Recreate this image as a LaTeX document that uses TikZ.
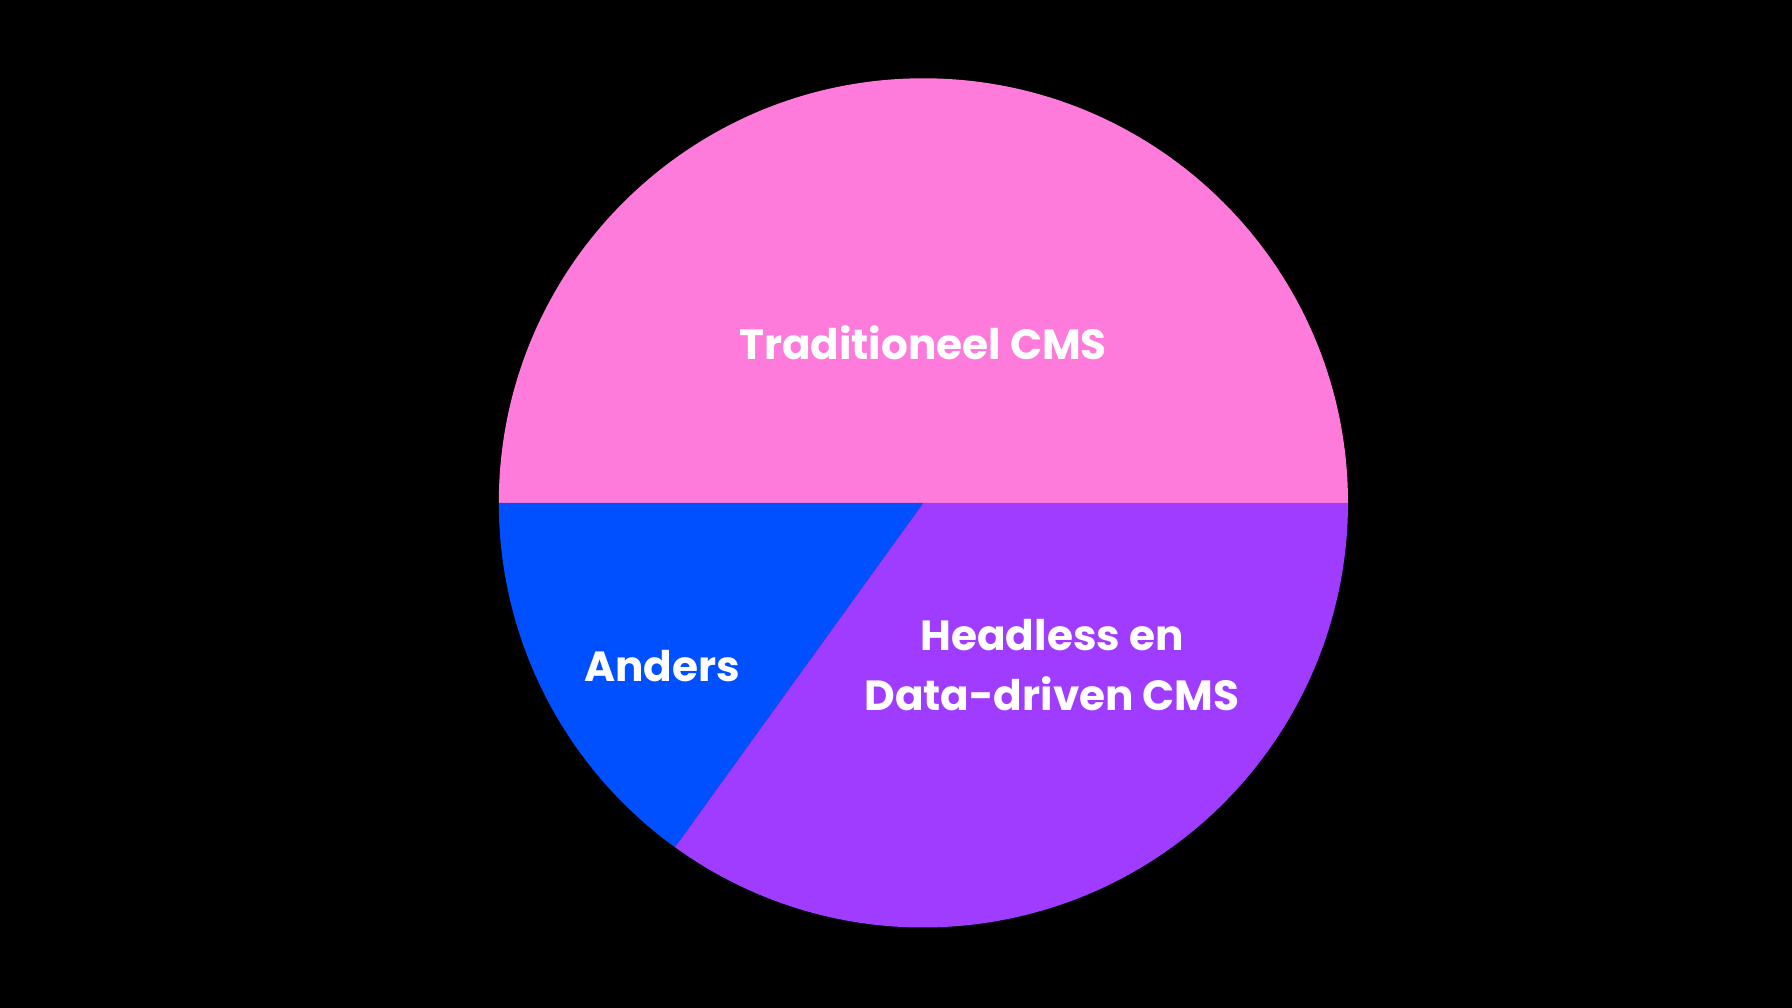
\documentclass[tikz,border=0pt]{standalone}
\usepackage{fontspec}
\setmainfont{Poppins}
\usepackage{tikz}

\definecolor{tradpink}{HTML}{FF7BDB}
\definecolor{andersblue}{HTML}{0050FF}
\definecolor{headlesspurple}{HTML}{A03CFF}

\begin{document}
\begin{tikzpicture}[
    slicelabel/.style={text=white, font=\fontsize{12}{17.2}\selectfont\bfseries, align=center, inner sep=0pt}]

    % background and frame
    \fill[black] (0,0) rectangle (17.92,10.08);
    \useasboundingbox (0,0) rectangle (17.92,10.08);

    \coordinate (c) at (9.234,5.051);

    % slices
    \fill[tradpink] (c) -- ++(0:4.246) arc[start angle=0, end angle=180, radius=4.246] -- cycle;
    \fill[andersblue] (c) -- ++(180:4.246) arc[start angle=180, end angle=234.2, radius=4.246] -- cycle;
    \fill[headlesspurple] (c) -- ++(234.2:4.246) arc[start angle=234.2, end angle=360, radius=4.246] -- cycle;

    % labels
    \node[slicelabel] (trad) at (9.23,6.65) {Traditioneel CMS};
    \node[slicelabel] (anders) at (6.62,3.42) {Anders};
    \node[slicelabel] (headless) at (10.52,3.43) {Headless en\\Data-driven CMS};

\end{tikzpicture}
\end{document}
